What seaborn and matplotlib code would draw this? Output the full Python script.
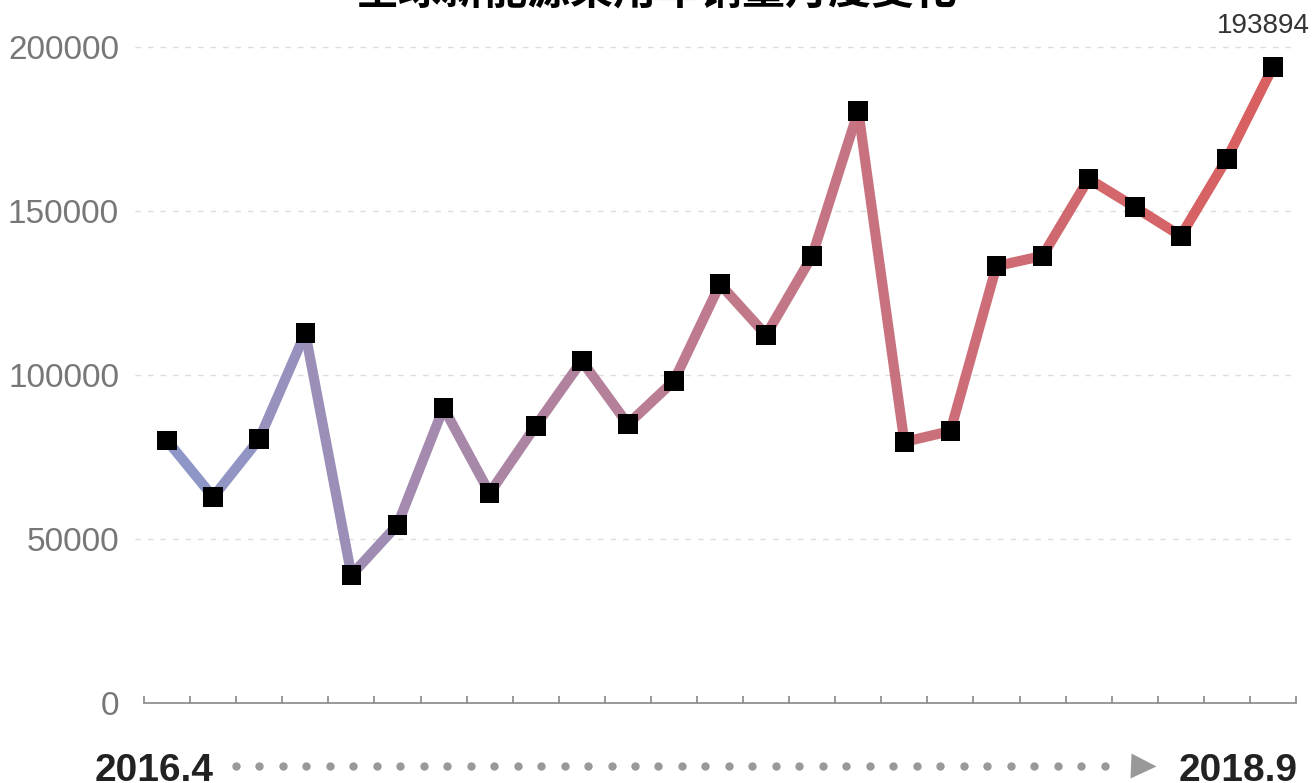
import numpy as np
import matplotlib
matplotlib.use("Agg")
import matplotlib.pyplot as plt
import seaborn as sns

# monthly sales, 2016.4 -> 2018.9
months = list(range(25))
sales = [80000, 62800, 80500, 112800, 39000, 54300, 90000, 64000, 84500,
         104300, 85000, 98200, 127700, 112200, 136300, 180500, 79600, 82900,
         133200, 136300, 159800, 151200, 142400, 165900, 193894]
y_ticks = [0, 50000, 100000, 150000, 200000]
title = "全球新能源乘用车销量月度变化"
start_label = "2016.4"
end_label = "2018.9"

sns.set_style("white")
plt.rcParams['font.family'] = ['Liberation Sans', 'Noto Sans CJK SC', 'DejaVu Sans']

fig = plt.figure(figsize=(13.12, 7.83), dpi=100)
ax = fig.add_axes([0.1098, 0.1022, 0.8780, 0.8378])

# gradient line: one segment per month pair
colors = sns.blend_palette(["#8e96c8", "#c07a8c", "#d96060"], n_colors=len(months) - 1)
for i in range(len(months) - 1):
    ax.plot(months[i:i + 2], sales[i:i + 2], color=colors[i], lw=7.3,
            solid_capstyle='round', zorder=2, clip_on=False)

sns.scatterplot(x=months, y=sales, marker='s', s=200, color='black',
                edgecolor='none', ax=ax, zorder=3, clip_on=False)

ax.set_xlim(-0.5, 24.5)
ax.set_ylim(0, 200000)
ax.set_yticks(y_ticks)
ax.set_yticklabels([str(v) for v in y_ticks], color='#777777', fontsize=24)
ax.tick_params(axis='y', length=0, pad=18)
ax.set_xticks(np.arange(-0.5, 25, 1))
ax.set_xticklabels([])
ax.tick_params(axis='x', bottom=True, direction='in', length=5, color='#888888', width=1.2)
for v in y_ticks[1:]:
    ax.axhline(v, xmin=-0.008, color='#dddddd', lw=1, ls=(0, (4, 5)), zorder=0,
               clip_on=False)
for s in ['top', 'right', 'left']:
    ax.spines[s].set_visible(False)
ax.spines['bottom'].set_color('#888888')
ax.spines['bottom'].set_linewidth(1.2)

# value of the last point
ax.annotate(f"{sales[-1]}", (months[-1], sales[-1]), xytext=(-7, 20),
            textcoords='offset points', ha='center', va='bottom',
            fontsize=20, color='#333333')

# title sits mostly above the canvas, as in the original
fig.text(0.5, 0.995, title, ha='center', va='baseline', fontsize=31,
         fontweight='bold', color='black')

# time arrow along the bottom
fig.text(0.163, -0.008, start_label, ha='right', va='bottom', fontsize=28,
         fontweight='bold', color='#222222')
fig.text(0.989, -0.008, end_label, ha='right', va='bottom', fontsize=28,
         fontweight='bold', color='#222222')
dot_x = np.linspace(0.1797, 0.842, 38)
fig.add_artist(plt.Line2D(dot_x, [0.0215] * len(dot_x), ls='none', marker='o',
                          ms=6, color='#999999', mec='none'))
fig.add_artist(plt.Line2D([0.871], [0.0215], ls='none', marker='>', ms=18,
                          color='#999999', mec='none'))

fig.savefig("out.png", dpi=100)
